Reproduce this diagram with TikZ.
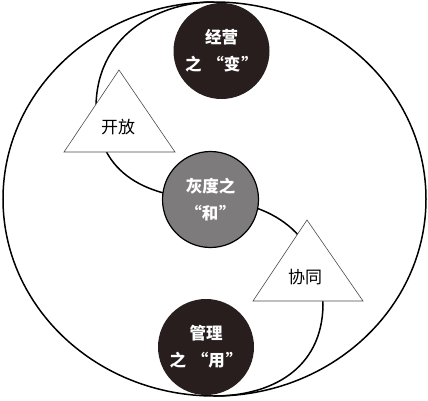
\documentclass[tikz,border=0pt]{standalone}
\usepackage{fontspec}
\newfontfamily\cjk{Noto Sans CJK SC}
\definecolor{darkball}{RGB}{40,30,30}
\definecolor{midgray}{RGB}{125,123,123}

\begin{document}
\begin{tikzpicture}[x=1pt,y=-1pt,line width=1.5pt,
	ball/.style={circle, minimum size=96pt, inner sep=0pt, align=center, text=white, font=\cjk\bfseries\fontsize{16.5}{27}\selectfont},
	tri/.style={draw=black!70, fill=white, line width=0.6pt},
	tritext/.style={font=\cjk\fontsize{17}{20}\selectfont}]
		\useasboundingbox (0,0) rectangle (428,400);
		\coordinate (top) at (214,2);
		\coordinate (mid) at (210.5,199.5);
		\coordinate (bot) at (214,396);
		\draw (214.5,199) ellipse [x radius=211.5pt, y radius=197pt];
		\draw (top) .. controls (165,2) and (98,30) .. (96,105) .. controls (96,170) and (140,197) .. (mid)
			.. controls (280,203) and (322,240) .. (323,305) .. controls (322,370) and (270,396) .. (bot);
		\node (jy) [ball, fill=darkball] at (221.5,51) {经营\\之\hspace{6pt}“变\hspace{1pt}”};
		\node (hd) [ball, fill=midgray, draw=black, line width=1.2pt] at (mid) {灰度之\\“和\hspace{1pt}”};
		\node (gl) [ball, fill=darkball] at (206,347) {管理\\之\hspace{6pt}“用\hspace{1pt}”};
		\filldraw[tri] (119,70) -- (64,152) -- (175,152) -- cycle;
		\node (kf) [tritext] at (118,127) {开放};
		\filldraw[tri] (307,220) -- (253,301) -- (363,301) -- cycle;
		\node (xt) [tritext] at (305,277) {协同};
		\end{tikzpicture}
\end{document}
